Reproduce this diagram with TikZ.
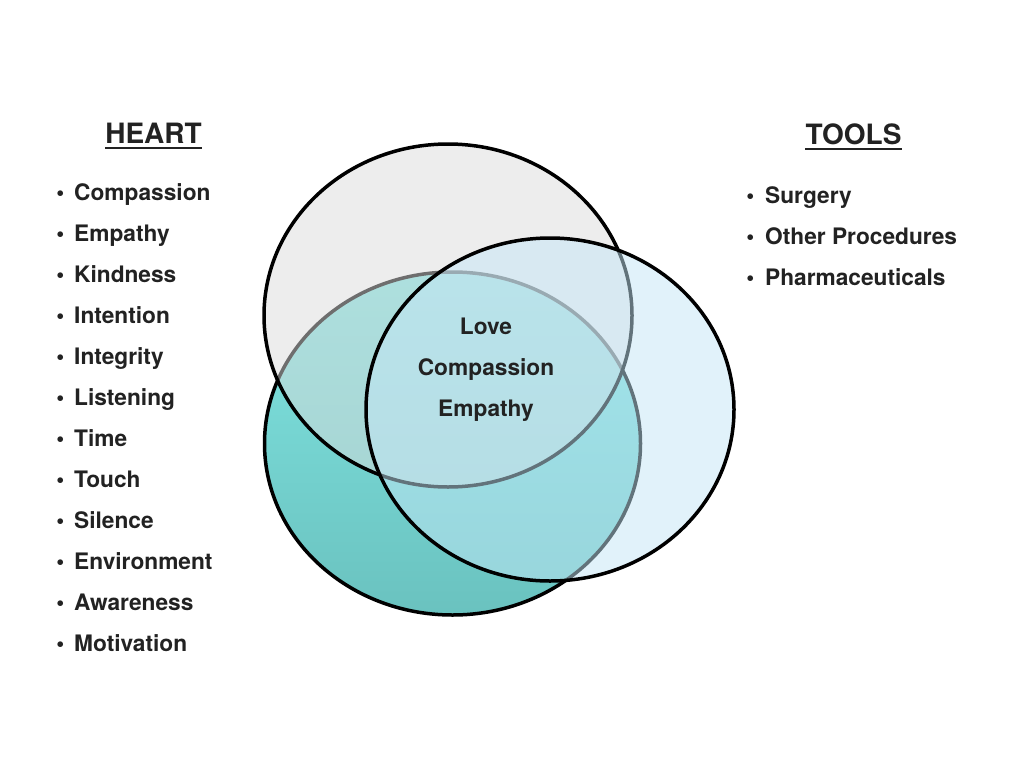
\documentclass[tikz,border=0pt]{standalone}
\usepackage{fontspec}
\setmainfont{TeX Gyre Heros}
\begin{document}
\begin{tikzpicture}[x=1pt,y=-1pt,
  txt/.style={inner sep=0pt, text=textc, font=\bfseries\fontsize{22.7}{26}\selectfont},
  head/.style={inner sep=0pt, text=textc, font=\bfseries\fontsize{28}{32}\selectfont},
  ul/.style={line width=2.2pt, draw=textc},
  outl/.style={line width=3.5pt, draw=black}]
\definecolor{textc}{HTML}{222222}
\definecolor{grayf}{RGB}{220,220,220}
\definecolor{bluef}{RGB}{197,231,247}
\definecolor{tealtop}{RGB}{128,229,226}
\definecolor{tealmid}{RGB}{124,222,219}
\definecolor{tealbot}{RGB}{106,194,191}
\useasboundingbox (0,0) rectangle (1024,768);
\fill[white] (0,0) rectangle (1024,768);
% teal ellipse (bottom layer)
\shade[top color=tealtop, middle color=tealmid, bottom color=tealbot] (452.5,443.5) ellipse [x radius=188, y radius=171.5];
\draw[outl] (452.5,443.5) ellipse [x radius=188, y radius=171.5];
% gray ellipse
\fill[grayf, fill opacity=0.5] (448,315.5) ellipse [x radius=184, y radius=171.5];
\draw[outl] (448,315.5) ellipse [x radius=184, y radius=171.5];
% blue ellipse
\fill[bluef, fill opacity=0.5] (550,409.5) ellipse [x radius=184, y radius=171.5];
\draw[outl] (550,409.5) ellipse [x radius=184, y radius=171.5];
% headings
\node[head, anchor=base] (heart) at (153.5,143) {HEART};
\draw[ul] ([yshift=-5pt]heart.base west) -- ([yshift=-5pt]heart.base east);
\node[head, anchor=base] (tools) at (853.5,144) {TOOLS};
\draw[ul] ([yshift=-5pt]tools.base west) -- ([yshift=-5pt]tools.base east);
% heart list
\foreach \t [count=\i] in {Compassion,Empathy,Kindness,Intention,Integrity,Listening,Time,Touch,Silence,Environment,Awareness,Motivation}{
  \node[txt, anchor=base west] (h\i) at (74,{200+41*(\i-1)}) {\llap{•\hspace{10pt}}\t};
}
% tools list
\foreach \t [count=\i] in {Surgery,Other Procedures,Pharmaceuticals}{
  \node[txt, anchor=base west] (t\i) at (765,{203+41*(\i-1)}) {\llap{•\hspace{11pt}}\t};
}
% center text
\node[txt, anchor=base] (c1) at (486,334) {Love};
\node[txt, anchor=base] (c2) at (486,375) {Compassion};
\node[txt, anchor=base] (c3) at (486,416) {Empathy};
\end{tikzpicture}
\end{document}
